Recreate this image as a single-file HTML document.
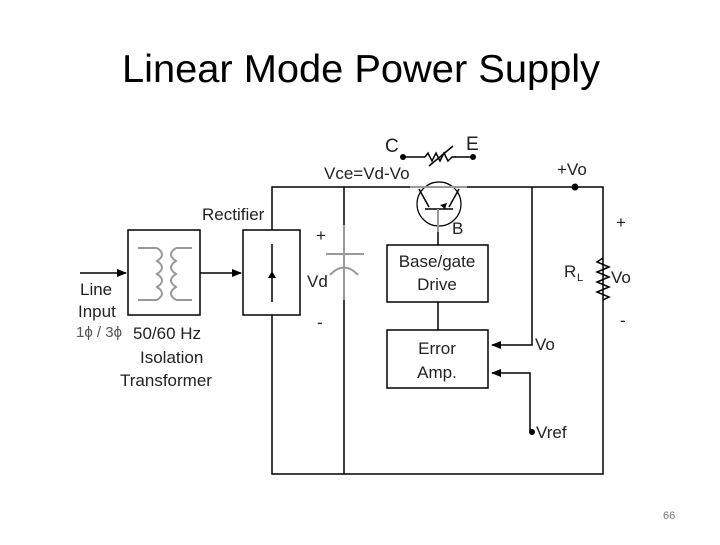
<!DOCTYPE html>
<html><head><style>
body{margin:0;background:#fff;width:720px;height:540px;overflow:hidden}
text{font-family:"Liberation Sans",Arial,sans-serif;fill:#222}
</style></head><body>
<svg width="720" height="540" xmlns="http://www.w3.org/2000/svg">
<defs><marker id="a" markerWidth="10" markerHeight="8" refX="9" refY="4" orient="auto" markerUnits="userSpaceOnUse"><path d="M0,0L10,4L0,8z" fill="#000"/></marker></defs>
<text x="361" y="82" text-anchor="middle" font-size="39" textLength="478" lengthAdjust="spacingAndGlyphs" style="fill:#000">Linear Mode Power Supply</text>
<g stroke="#000" stroke-width="1.5" fill="none">
<path d="M272,230V187H410M467,187H603V474H272V315"/>
<path d="M344,187V225M344,300V474"/>
<path d="M438,245V232M438,302V330"/>
<path d="M532,187V345H492" marker-end="url(#a)"/>
<path d="M530,432V373H492" marker-end="url(#a)"/>
<rect x="128" y="230" width="72" height="85"/>
<rect x="243" y="230" width="57" height="85"/>
<rect x="387" y="245" width="101" height="57"/>
<rect x="387" y="330" width="101" height="58"/>
<path d="M80,273H126" marker-end="url(#a)"/>
<path d="M200,273H241" marker-end="url(#a)"/>
<path d="M272,244V302"/>
<circle cx="439" cy="204" r="22" stroke-width="1.2"/>
<path d="M419,189L429,207M459,189L449,207M425,209H453M403,157H425M455,157H473"/>
<path d="M603,258l-6,4l12,5l-12,5l12,5l-12,5l12,5l-12,5l12,5l-6,3"/>
<path d="M425,157l3,-4l4,8l4,-8l4,8l4,-8l4,8l4,-4h4"/>
<path d="M429,166L453,146"/>
</g>
<g stroke="#999" stroke-width="2" fill="none">
<path d="M344,225V300M326,254H364M330,275Q344,260 358,275"/>
<path d="M410,187H467M438,209V232"/>
<path d="M138,248H157M138,300H157M176,248H192M176,300H192"/>
<path d="M157,248Q167,254.5 157,261Q167,267.5 157,274Q167,280.5 157,287Q167,293.5 157,300"/>
<path d="M176,248Q166,254.5 176,261Q166,267.5 176,274Q166,280.5 176,287Q166,293.5 176,300"/>
</g>
<path d="M268,278h8l-4,-7z" fill="#000"/>
<path d="M447,203l-2,6l-5,-4z" fill="#000"/>
<circle cx="403" cy="157" r="3" fill="#000"/><circle cx="473" cy="157" r="3" fill="#000"/>
<circle cx="575" cy="187" r="3.5" fill="#000"/><circle cx="532" cy="432" r="3" fill="#000"/>
<g font-size="17">
<text x="80" y="295">Line</text><text x="78" y="317">Input</text>
<text x="76" y="337" font-size="15" font-family="Liberation Serif" style="fill:#555">1ϕ / 3ϕ</text>
<text x="133" y="339">50/60 Hz</text><text x="140" y="363">Isolation</text><text x="120" y="386">Transformer</text>
<text x="202" y="220">Rectifier</text>
<text x="316" y="241">+</text><text x="307" y="287">Vd</text><text x="317" y="328">-</text>
<text x="385" y="152" font-size="19">C</text><text x="466" y="150" font-size="19">E</text>
<text x="324" y="179">Vce=Vd-Vo</text>
<text x="557" y="175">+Vo</text>
<text x="452" y="234">B</text>
<text x="437" y="267" text-anchor="middle">Base/gate</text><text x="437" y="290" text-anchor="middle">Drive</text>
<text x="437" y="354" text-anchor="middle">Error</text><text x="437" y="378" text-anchor="middle">Amp.</text>
<text x="535" y="350">Vo</text><text x="536" y="438">Vref</text>
<text x="616" y="228">+</text><text x="564" y="277">R</text><text x="577" y="281" font-size="11">L</text>
<text x="611" y="283">Vo</text><text x="620" y="326">-</text>
</g>
<text x="663" y="519" font-size="11" style="fill:#777">66</text>
</svg>
</body></html>
